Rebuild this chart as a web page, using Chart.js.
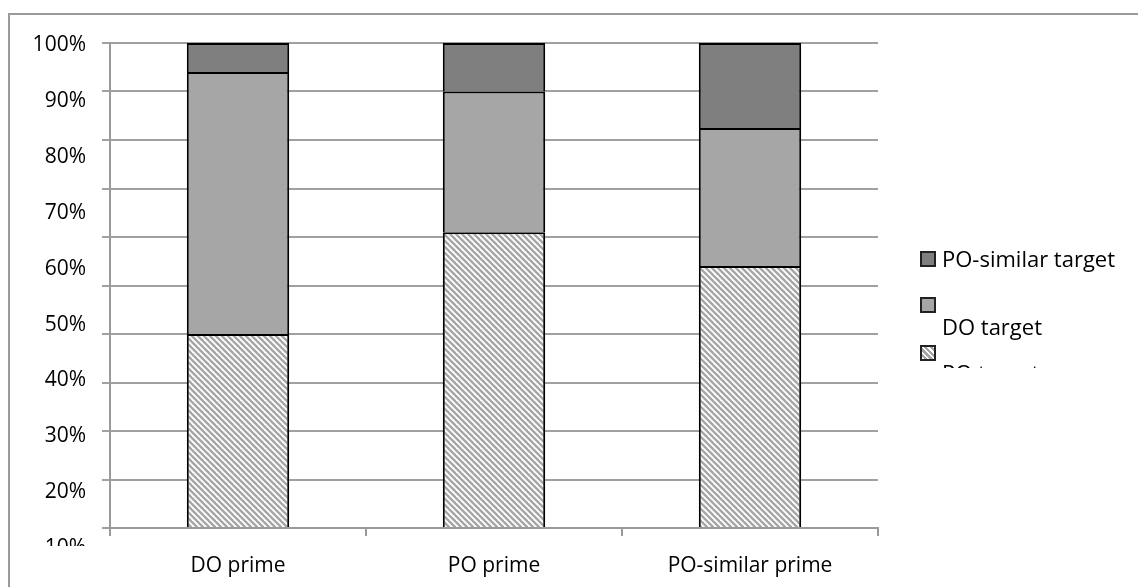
<!DOCTYPE html>
<html>
<head>
<meta charset="utf-8">
<script src="https://cdn.jsdelivr.net/npm/chart.js@4"></script>
<style>
    html, body { margin: 0; padding: 0; background: #fff; overflow: hidden; }
    #wrap { position: relative; width: 1138px; height: 587px; }
    #frame { position: absolute; left: 8px; top: 13px; width: 1300px; height: 700px; border: 2px solid #9a9a9a; }
    #chart { position: absolute; left: 0; top: 0; }
    .lg { position: absolute; font-family: "Open Sans", sans-serif; font-size: 22px; color: #000; line-height: 26px; white-space: nowrap; }
    .sw { position: absolute; width: 12px; height: 12px; border: 2px solid #222; }
    #clipBox { position: absolute; left: 900px; top: 240px; width: 238px; height: 128px; overflow: hidden; }
</style>
</head>
<body>
<div id="wrap">
    <div id="frame"></div>
    <canvas id="chart" width="1138" height="587"></canvas>
    <div id="clipBox"></div>
</div>
<script>
const categories = ['DO prime', 'PO prime', 'PO-similar prime'];
const seriesNames = ['PO target', 'DO target', 'PO-similar target'];
const poTarget = [40, 61, 54];
const doTarget = [54, 29, 28.5];
const poSimilarTarget = [6, 10, 17.5];
const yTickLabels = [100, 90, 80, 70, 60, 50, 40, 30, 20];

document.addEventListener('DOMContentLoaded', function() {

    // hatch fill for the PO target segments
    const tile = document.createElement('canvas');
    tile.width = 6; tile.height = 6;
    const tc = tile.getContext('2d');
    tc.fillStyle = '#fff';
    tc.fillRect(0, 0, 6, 6);
    tc.strokeStyle = '#a6a6a6';
    tc.lineWidth = 2.4;
    for (let k = -1; k <= 1; k++) {
        tc.beginPath();
        tc.moveTo(k * 6 - 1, -1);
        tc.lineTo(k * 6 + 7, 7);
        tc.stroke();
    }
    const ctx = document.getElementById('chart').getContext('2d');
    const hatch = ctx.createPattern(tile, 'repeat');

    // the cut-off "10%" label under the axis
    const partialLabel = {
        id: 'partialLabel',
        afterDraw(chart) {
            const s = chart.scales.y2;
            const c = chart.ctx;
            c.save();
            c.beginPath();
            c.rect(0, 0, chart.chartArea.left, 546);
            c.clip();
            c.font = '21px "Open Sans"';
            c.fillStyle = '#000';
            c.textAlign = 'right';
            c.textBaseline = 'middle';
            c.fillText('10%', s.right - 16, s.getPixelForValue(10));
            c.restore();
        }
    };

    new Chart(ctx, {
        type: 'bar',
        data: {
            labels: categories,
            datasets: [
                { label: seriesNames[0], data: poTarget, backgroundColor: hatch },
                { label: seriesNames[1], data: doTarget, backgroundColor: '#a6a6a6' },
                { label: seriesNames[2], data: poSimilarTarget, backgroundColor: '#7f7f7f' }
            ]
        },
        options: {
            responsive: false,
            animation: false,
            layout: { padding: { top: 43, right: 260, left: 0, bottom: 0 } },
            datasets: {
                bar: {
                    categoryPercentage: 1,
                    barPercentage: 0.4,
                    borderColor: '#000',
                    borderWidth: 2
                }
            },
            plugins: {
                legend: { display: false },
                tooltip: { enabled: false }
            },
            scales: {
                x: {
                    stacked: true,
                    afterFit: s => { s.height = 59; },
                    grid: { offset: true, drawOnChartArea: false, drawTicks: true, tickLength: 8, color: '#9a9a9a', lineWidth: 2 },
                    border: { color: '#9a9a9a', width: 2 },
                    ticks: { color: '#000', padding: 17, font: { family: 'Open Sans', size: 21 } }
                },
                y: {
                    stacked: true,
                    min: 0,
                    max: 100,
                    weight: 0,
                    afterFit: s => { s.width = 8; },
                    ticks: { stepSize: 10, display: false },
                    grid: { color: '#a0a0a0', lineWidth: 2, tickLength: 8 },
                    border: { color: '#9a9a9a', width: 2 }
                },
                y2: {
                    position: 'left',
                    min: 13.6,
                    max: 100.4,
                    weight: 1,
                    afterFit: s => { s.width = 102; },
                    afterBuildTicks: s => { s.ticks = yTickLabels.map(v => ({ value: v })); },
                    grid: { display: false, drawTicks: false },
                    border: { display: false },
                    ticks: {
                        color: '#000',
                        padding: 16,
                        font: { family: 'Open Sans', size: 21 },
                        callback: v => v + '%'
                    }
                }
            }
        },
        plugins: [partialLabel]
    });

    // legend, laid out like the original (wrapped and cut at the bottom)
    const box = document.getElementById('clipBox');
    const fills = ['#7f7f7f', '#a6a6a6', 'repeating-linear-gradient(45deg, #fff 0 1.5px, #a6a6a6 1.5px 4px)'];
    const rows = [
        { sw: 11, tx: 5, name: seriesNames[2], fill: fills[0] },
        { sw: 57, tx: 73, name: seriesNames[1], fill: fills[1] },
        { sw: 105, tx: 119, name: seriesNames[0], fill: fills[2] }
    ];
    rows.forEach(r => {
        const sw = document.createElement('div');
        sw.className = 'sw';
        sw.style.left = '20px';
        sw.style.top = r.sw + 'px';
        sw.style.background = r.fill;
        box.appendChild(sw);
        const t = document.createElement('div');
        t.className = 'lg';
        t.textContent = r.name;
        t.style.left = '42px';
        t.style.top = r.tx + 'px';
        box.appendChild(t);
    });
});
</script>
</body>
</html>
